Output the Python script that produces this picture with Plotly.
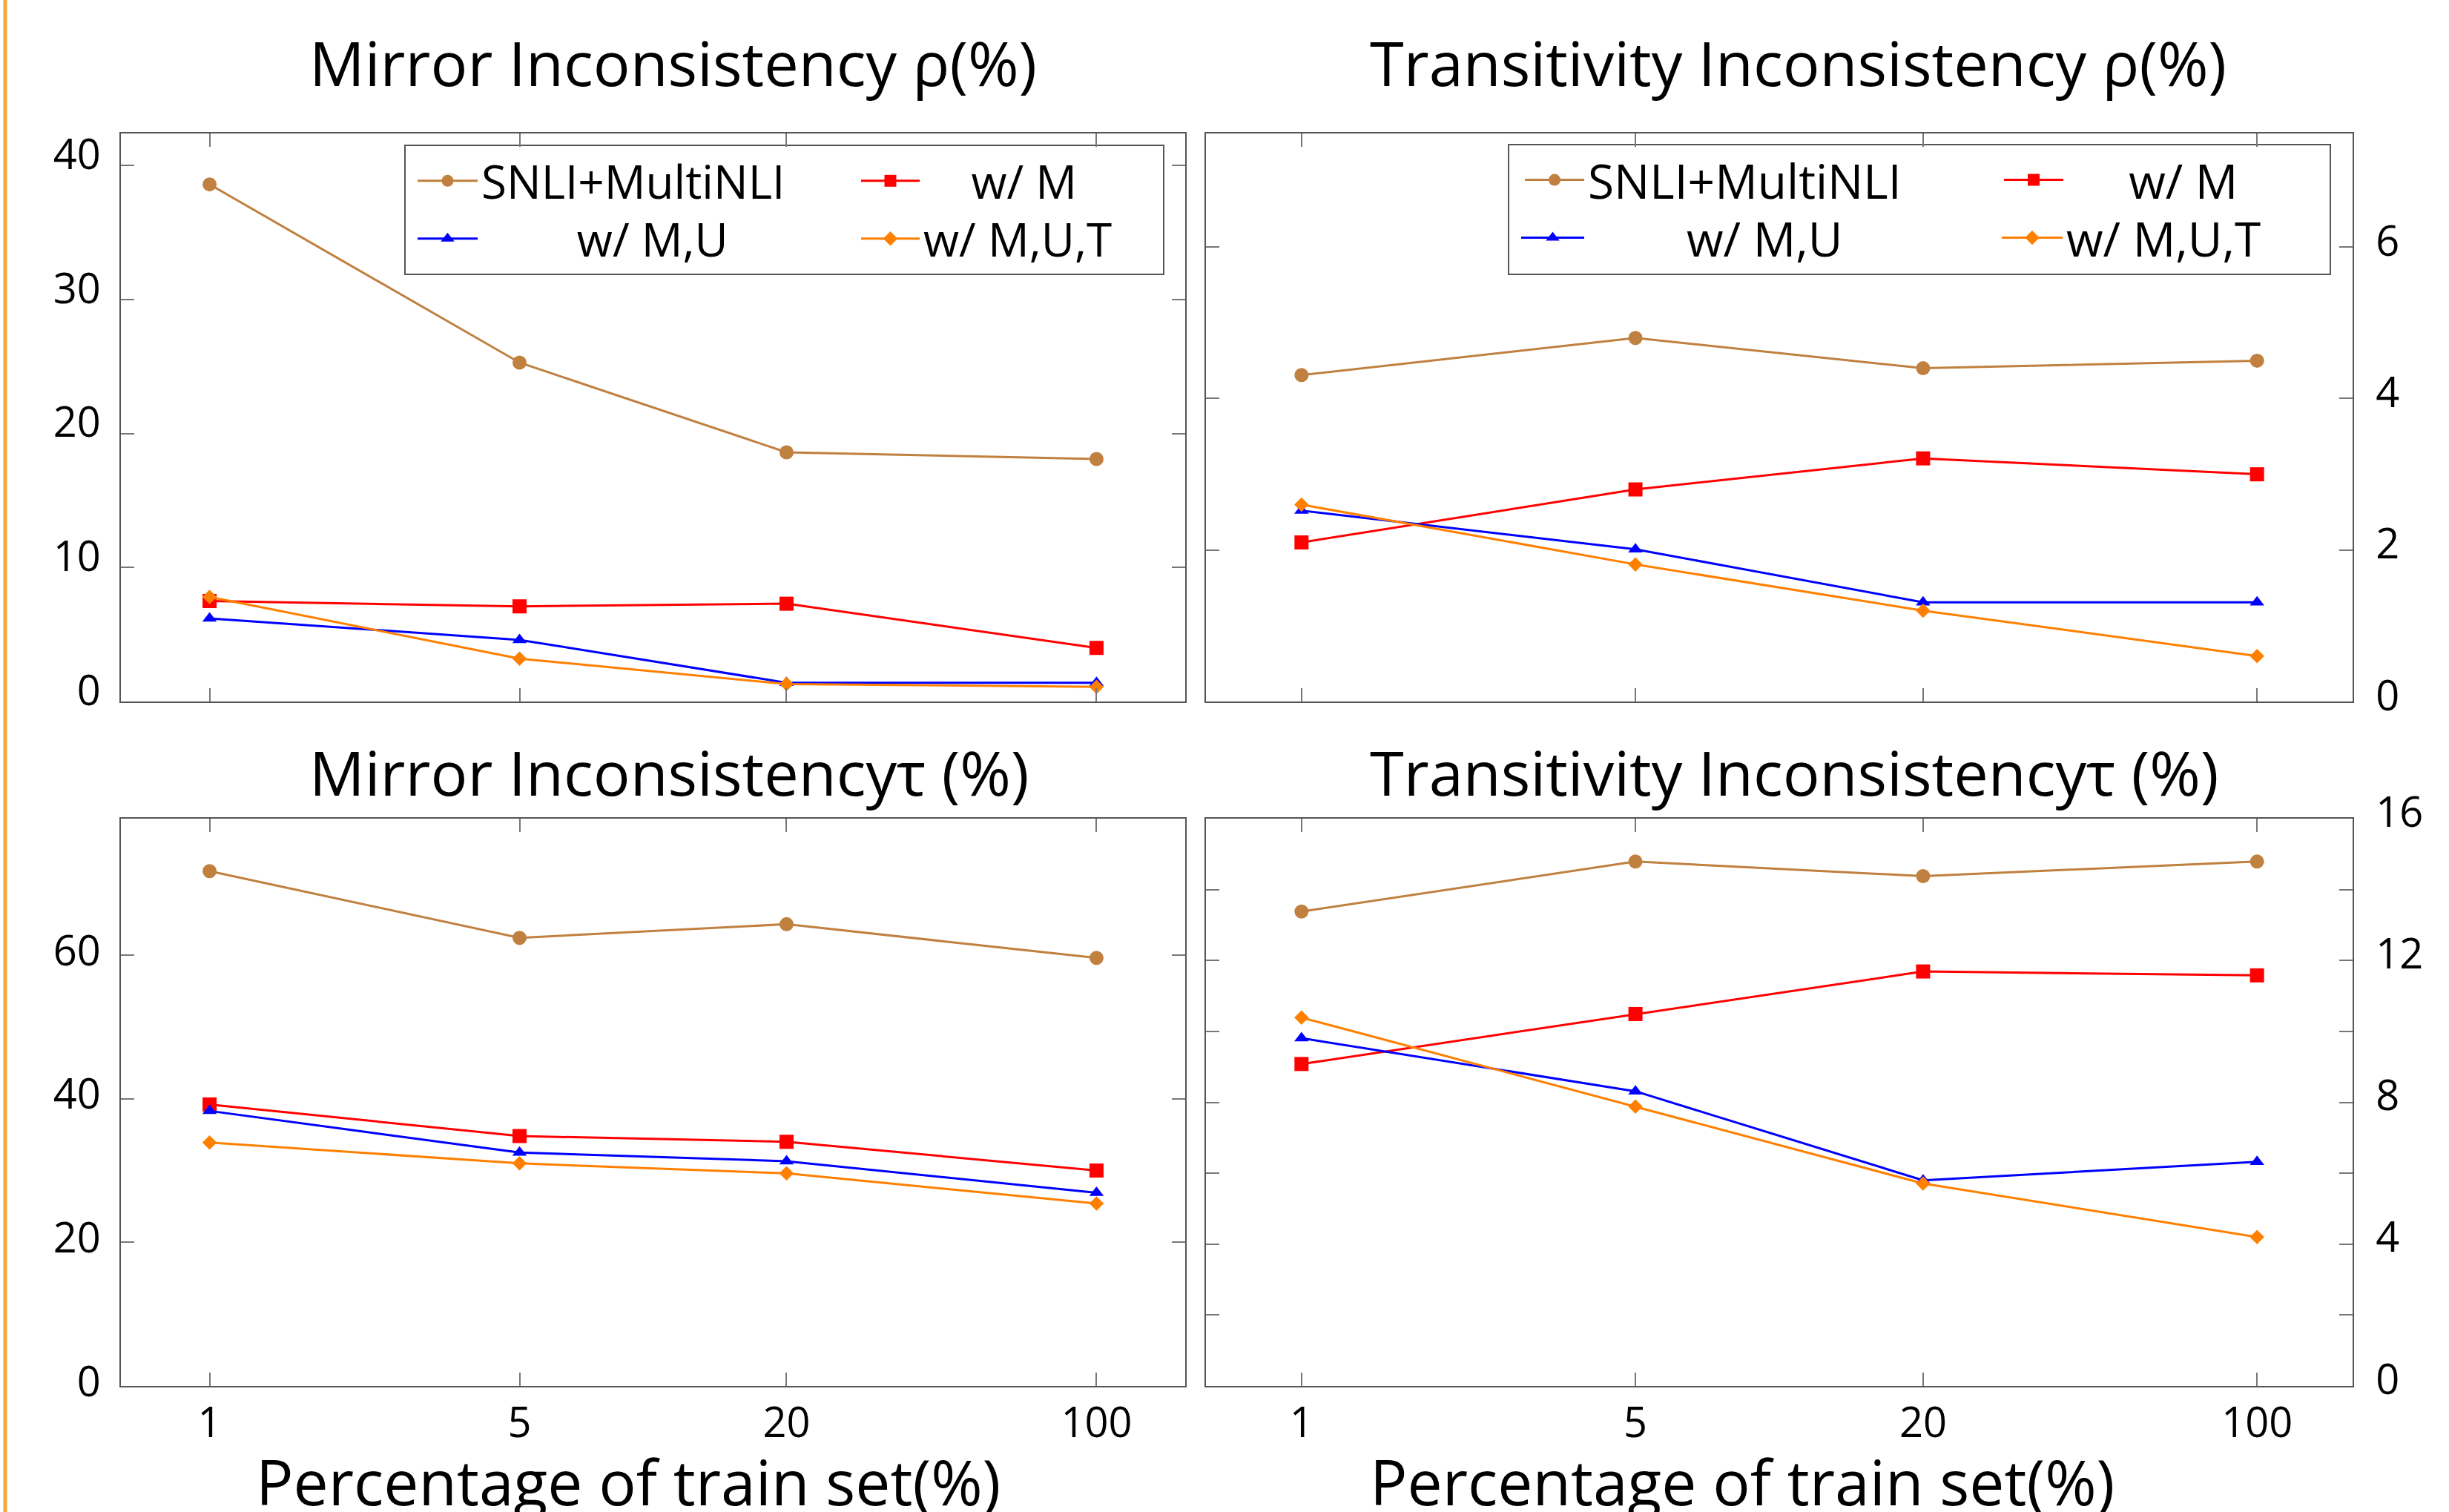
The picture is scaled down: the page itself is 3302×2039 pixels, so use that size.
import plotly.graph_objects as go

# ---------------- data ----------------
x_pct = [1, 5, 20, 100]
x_labels = ["1", "5", "20", "100"]
series_names = ["SNLI+MultiNLI", "w/ M", "w/ M,U", "w/ M,U,T"]

mirror_rho_snli = [38.6, 25.3, 18.6, 18.1]
mirror_rho_m = [7.5, 7.1, 7.3, 4.0]
mirror_rho_mu = [6.2, 4.6, 1.4, 1.4]
mirror_rho_mut = [7.8, 3.2, 1.3, 1.1]

trans_rho_snli = [4.31, 4.80, 4.40, 4.50]
trans_rho_m = [2.10, 2.80, 3.21, 3.00]
trans_rho_mu = [2.52, 2.01, 1.31, 1.31]
trans_rho_mut = [2.60, 1.81, 1.20, 0.60]

mirror_tau_snli = [71.7, 62.4, 64.3, 59.6]
mirror_tau_m = [39.2, 34.8, 34.0, 30.0]
mirror_tau_mu = [38.3, 32.5, 31.3, 26.9]
mirror_tau_mut = [33.9, 31.0, 29.6, 25.4]

trans_tau_snli = [13.38, 14.79, 14.38, 14.79]
trans_tau_m = [9.08, 10.49, 11.69, 11.58]
trans_tau_mu = [9.81, 8.31, 5.80, 6.32]
trans_tau_mut = [10.39, 7.88, 5.71, 4.20]

panel_titles = ["Mirror Inconsistency ρ(%)", "Transitivity Inconsistency ρ(%)",
                "Mirror Inconsistencyτ (%)", "Transitivity Inconsistencyτ (%)"]
x_title = "Percentage of train set(%)"

# ---------------- styles ----------------
W, H = 3302, 2039
FONT = "Open Sans, Liberation Sans, sans-serif"
colors = ["#C08040", "#FF0000", "#0000FF", "#FF8000"]
symbols = ["circle", "square", "triangle-up", "diamond"]
msizes = [19, 19, 17, 15]


def px(x):
    return x / W


def py(y):
    return 1 - y / H


fig = go.Figure()

panels = [
    ("x", "y", [mirror_rho_snli, mirror_rho_m, mirror_rho_mu, mirror_rho_mut]),
    ("x2", "y2", [trans_rho_snli, trans_rho_m, trans_rho_mu, trans_rho_mut]),
    ("x3", "y3", [mirror_tau_snli, mirror_tau_m, mirror_tau_mu, mirror_tau_mut]),
    ("x4", "y4", [trans_tau_snli, trans_tau_m, trans_tau_mu, trans_tau_mut]),
]

NB = "\u00a0"
# legend layout per panel (top panels only): (legend id, left px, row y px, itemwidth, label padding)
legend_specs = {
    0: [("legend", 558, 244, 81, 0), ("legend2", 1156, 244, 79, 4),
        ("legend3", 558, 322, 81, 8), ("legend4", 1156, 322, 79, 0)],
    1: [("legend5", 2051, 243, 80, 0), ("legend6", 2697, 243, 80, 5),
        ("legend7", 2046, 321, 85, 8), ("legend8", 2694, 321, 82, 0)],
}
legend_font = {0: 62, 1: 64}

layout_legends = {}
for p, (xa, ya, series) in enumerate(panels):
    for i, vals in enumerate(series):
        kw = dict(showlegend=False)
        if p in legend_specs:
            lid, L, ry, iw, pad = legend_specs[p][i]
            kw = dict(showlegend=True, legend=lid)
            layout_legends[lid] = dict(
                x=px(L), y=py(ry), xanchor="left", yanchor="middle",
                bgcolor="rgba(0,0,0,0)", borderwidth=0, itemwidth=iw,
                font=dict(family=FONT, size=legend_font[p], color="black"),
            )
            name = NB * pad + series_names[i]
        else:
            name = series_names[i]
        fig.add_trace(go.Scatter(
            x=x_pct, y=vals, name=name, mode="lines+markers",
            line=dict(color=colors[i], width=3),
            marker=dict(color=colors[i], symbol=symbols[i], size=msizes[i]),
            xaxis=xa, yaxis=ya, **kw,
        ))

# domains in pixels
xdom = {"L": (163, 1598), "R": (1626, 3172)}
ydom = {"T": (180, 946), "B": (1104, 1869)}

tickfont = dict(family=FONT, size=56, color="black")
common_x = dict(type="log", range=[-0.2, 2.2], tickvals=x_pct, ticktext=x_labels,
                ticks="inside", ticklen=18, tickwidth=2, tickcolor="#777",
                showline=True, linecolor="#555", linewidth=2, mirror="ticks",
                showgrid=False, zeroline=False, tickfont=tickfont, automargin=False)
common_y = dict(ticks="inside", ticklen=18, tickwidth=2, tickcolor="#777",
                showline=True, linecolor="#555", linewidth=2, mirror="ticks",
                showgrid=False, zeroline=False, tickfont=tickfont, automargin=False)

def xd(k):
    a, b = xdom[k]
    return [px(a), px(b)]

def yd(k):
    a, b = ydom[k]
    return [py(b), py(a)]

layout = dict(
    width=W, height=H, autosize=False,
    margin=dict(l=0, r=0, t=0, b=0, pad=0, autoexpand=False),
    paper_bgcolor="white", plot_bgcolor="white",
    font=dict(family=FONT, color="black"),
    xaxis=dict(domain=xd("L"), anchor="y", showticklabels=False, **common_x),
    xaxis2=dict(domain=xd("R"), anchor="y2", showticklabels=False, **common_x),
    xaxis3=dict(domain=xd("L"), anchor="y3", showticklabels=True, ticklabelstandoff=0, **common_x),
    xaxis4=dict(domain=xd("R"), anchor="y4", showticklabels=True, ticklabelstandoff=0, **common_x),
    yaxis=dict(domain=yd("T"), anchor="x", range=[0, 42.4], tickvals=[0, 10, 20, 30, 40],
               side="left", ticklabelstandoff=14, ticklabelshift=-15, **common_y),
    yaxis2=dict(domain=yd("T"), anchor="x2", range=[0, 7.5], tickvals=[0, 2, 4, 6],
                side="right", ticklabelstandoff=18, ticklabelshift=-8, **common_y),
    yaxis3=dict(domain=yd("B"), anchor="x3", range=[0, 79], tickvals=[0, 20, 40, 60],
                side="left", ticklabelstandoff=14, ticklabelshift=-6, **common_y),
    yaxis4=dict(domain=yd("B"), anchor="x4", range=[0, 16],
                tickvals=[0, 2, 4, 6, 8, 10, 12, 14, 16],
                ticktext=["0", "", "4", "", "8", "", "12", "", "16"],
                side="right", ticklabelstandoff=18, ticklabelshift=-9, **common_y),
)
layout.update(layout_legends)
fig.update_layout(**layout)

# panel titles
title_pos = [(415, 83), (1845, 83), (415, 1040), (1845, 1040)]
for t, (tx, ty) in zip(panel_titles, title_pos):
    fig.add_annotation(text=t, x=px(tx), y=py(ty), xref="paper", yref="paper",
                       xanchor="left", yanchor="middle", showarrow=False,
                       font=dict(family=FONT, size=83, color="black"))

# x axis titles
for tx in (343, 1845):
    fig.add_annotation(text=x_title, x=px(tx), y=py(1997), xref="paper", yref="paper",
                       xanchor="left", yanchor="middle", showarrow=False,
                       font=dict(family=FONT, size=84, color="black"))

# legend boxes
for (x0, y0, x1, y1) in [(546, 196, 1569, 370), (2034, 195, 3142, 370)]:
    fig.add_shape(type="rect", xref="paper", yref="paper",
                  x0=px(x0), x1=px(x1), y0=py(y1), y1=py(y0),
                  line=dict(color="#555", width=2), fillcolor="white", layer="below")

# orange edge line at the left
fig.add_shape(type="line", xref="paper", yref="paper", x0=px(7), x1=px(7), y0=0, y1=1,
              line=dict(color="#F5A83A", width=5))

fig.write_html("out.html", config={"displayModeBar": False},
               post_script="document.body.style.margin='0';")
